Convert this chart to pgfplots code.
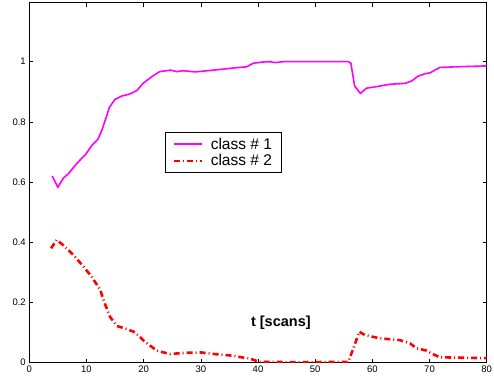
\documentclass[border=0pt]{standalone}
\usepackage{fontspec}
\setmainfont{Liberation Sans}
\usepackage{pgfplots}
\pgfplotsset{compat=1.18}
\definecolor{mag}{RGB}{255,0,255}
\definecolor{rd}{RGB}{255,0,0}
\newcommand{\lf}{\fontsize{15.5}{17}\selectfont}
\begin{document}
\begin{tikzpicture}
\begin{axis}[
  at={(0,0)}, anchor=south west,
  scale only axis, width=457.4pt, height=360pt,
  xmin=0, xmax=80, ymin=0, ymax=1.196,
  xtick={0,10,...,80}, ytick={0,0.2,0.4,0.6,0.8,1},
  yticklabels={0,0.2,0.4,0.6,0.8,1},
  tick align=inside, major tick length=4pt,
  tick style={black, line width=0.6pt},
  axis line style={line width=1pt},
  ticklabel style={font=\fontsize{9.5}{10}\selectfont},
  /pgf/number format/assume math mode=true,
  legend style={at={(axis cs:23.7,0.765)}, anchor=north west, draw=black, line width=0.8pt,
    row sep=0pt, inner xsep=7pt, inner ysep=3pt},
  legend cell align=left,
  legend image code/.code={\draw[#1] (0pt,0pt) -- (28pt,0pt); \path (34pt,0pt);},
]
\addplot[mag, line width=1.6pt] coordinates {
(4,0.62) (5,0.583) (5.95,0.613) (6.9,0.629) (8.3,0.662) (9.9,0.693) (10.9,0.721) (12,0.742)
(12.7,0.773) (13.4,0.812) (14,0.848) (15,0.875) (16.2,0.886) (17.6,0.893) (18.8,0.904)
(19.9,0.928) (21.4,0.950) (22.8,0.967) (24.7,0.972) (25.8,0.967) (26.9,0.970) (29,0.966)
(32.2,0.972) (35.7,0.979) (38,0.983) (39.2,0.995) (40.9,0.999) (42.1,1.0) (43,0.997)
(44.4,1.0) (50,1.0) (55.8,1.0) (56.25,0.995) (56.9,0.919) (57.9,0.895) (58.98,0.912)
(60.7,0.917) (63.1,0.925) (65.7,0.928) (66.9,0.936) (68,0.952) (69.2,0.960) (70.1,0.963)
(71.8,0.981) (74.7,0.983) (80,0.986)
};
\addlegendentry{\lf class \# 1}
\addplot[rd, line width=2.6pt, dash pattern=on 6pt off 3pt on 1pt off 3pt] coordinates {
(3.8,0.380) (4.8,0.408) (5.9,0.391) (7.7,0.358) (9.4,0.321) (10.9,0.286) (12.4,0.242)
(13.2,0.197) (14.1,0.153) (15.3,0.122) (16.7,0.114) (18.5,0.101) (20.2,0.070) (22.3,0.040)
(24.6,0.029) (27.5,0.033) (30.1,0.034) (32.8,0.028) (35.7,0.023) (37.4,0.017) (38.3,0.015)
(40.3,0.003) (45,0.002) (50,0.002) (55.8,0.003) (56.9,0.059) (57.7,0.103) (58.7,0.092)
(61.3,0.081) (64.8,0.075) (66.6,0.064) (67.7,0.048) (69.5,0.040) (70.3,0.031) (71.8,0.018)
(80,0.015)
};
\addlegendentry{\lf class \# 2}
\node[font=\bfseries\fontsize{14.5}{16}\selectfont] at (axis cs:44,0.133) {t [scans]};
\end{axis}
\pgfresetboundingbox
\path (-29.3pt,-20.3pt) rectangle (464.7pt,362.7pt);
\end{tikzpicture}
\end{document}
